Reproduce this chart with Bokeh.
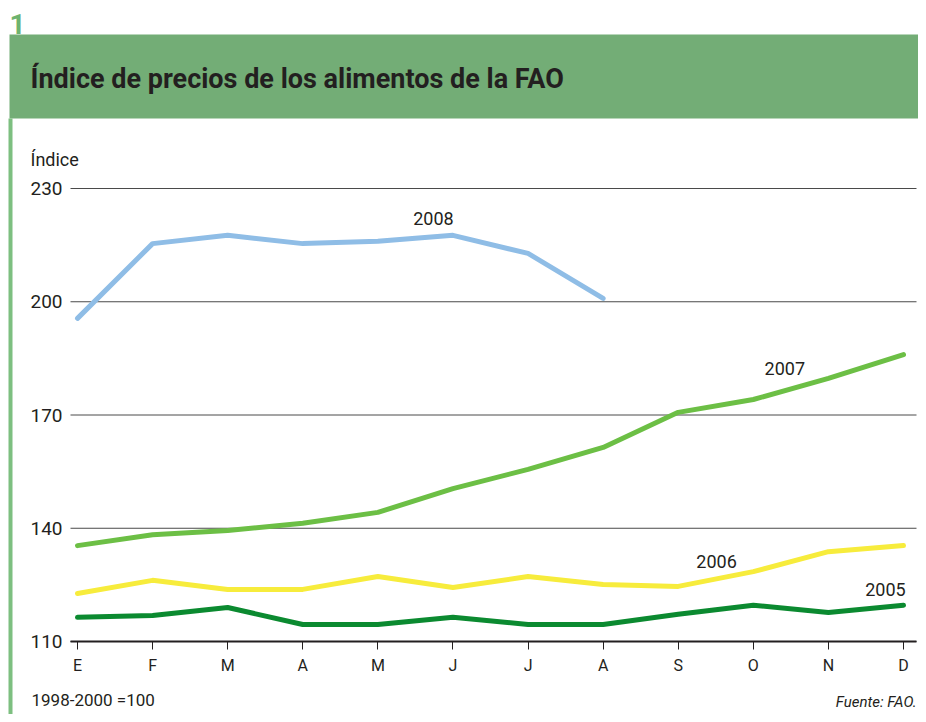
from bokeh.plotting import figure
from bokeh.models import Range1d, Label, BoxAnnotation, FixedTicker
from bokeh.core.properties import value
from bokeh.embed import file_html
from bokeh.resources import INLINE

months = ["E", "F", "M", "A", "M", "J", "J", "A", "S", "O", "N", "D"]
y2008 = [195.6, 215.4, 217.6, 215.4, 216.0, 217.6, 212.8, 200.9]
y2007 = [135.4, 138.3, 139.4, 141.3, 144.2, 150.5, 155.6, 161.4, 170.7, 174.1, 179.7, 186.0]
y2006 = [122.7, 126.2, 123.8, 123.8, 127.2, 124.3, 127.2, 125.1, 124.6, 128.5, 133.8, 135.4]
y2005 = [116.4, 116.9, 119.0, 114.5, 114.5, 116.4, 114.5, 114.5, 117.2, 119.6, 117.7, 119.6]
y_ticks = [110, 140, 170, 200, 230]

series = [
    ("2008", y2008, "#8fbde6", 4.74, 222.0),
    ("2007", y2007, "#6cbf45", 9.42, 182.3),
    ("2006", y2006, "#f7ec3c", 8.51, 131.3),
    ("2005", y2005, "#0b8a30", 10.76, 123.8),
]

TXT = "#231f20"
FONT = "Roboto"
TITLE_FONT = "'Liberation Sans Narrow', 'Roboto'"

W, H = 918, 714
PL, PR, PT, PB = 70, 916, 188, 641          # plot region (canvas pixels)
PPX = 75.09                                  # pixels per month
PPY = 453 / 120                              # pixels per index point
X0 = -7 / PPX                                # month value at the plot's left edge
X1 = X0 + (PR - PL) / PPX
Y0, Y1 = 110, 230


def xd(px):
    return X0 + (px - PL) / PPX


def yd(py):
    return Y0 + (PB - py) / PPY


# the frame covers the whole canvas; ranges chosen so the plot region sits where it should
p = figure(width=W, height=H, output_backend="svg", toolbar_location=None,
           x_range=Range1d(xd(0), xd(W)), y_range=Range1d(yd(H), yd(0)),
           min_border=0)
p.outline_line_color = None
p.background_fill_color = "white"
p.border_fill_color = "white"
p.xgrid.grid_line_color = None
p.ygrid.grid_line_color = None

# header decorations
p.add_layout(BoxAnnotation(left=xd(9), right=xd(W + 5), top=yd(34), bottom=yd(118),
                           fill_color="#73ad76", fill_alpha=1, line_color=None,
                           level="underlay"))
p.add_layout(BoxAnnotation(left=xd(8), right=xd(12), top=yd(118), bottom=yd(H + 5),
                           fill_color="#7dbf80", fill_alpha=1, line_color=None,
                           level="underlay"))

# horizontal grid lines at the y ticks, spanning the plot region
p.segment(x0=[X0] * len(y_ticks), x1=[X1] * len(y_ticks), y0=y_ticks, y1=y_ticks,
          line_color="#4a4a4a", line_width=1)

# axes drawn at fixed locations inside the frame
p.xaxis.fixed_location = Y0
p.xaxis.bounds = (X0, X1)
p.xaxis.ticker = FixedTicker(ticks=list(range(12)))
p.xaxis.major_label_overrides = {i: m for i, m in enumerate(months)}
p.xaxis.axis_line_color = "#231f20"
p.xaxis.axis_line_width = 2
p.xaxis.major_tick_line_color = "#231f20"
p.xaxis.major_tick_line_width = 1
p.xaxis.major_tick_out = 8
p.xaxis.major_tick_in = 0
p.xaxis.minor_tick_line_color = None
p.xaxis.major_label_standoff = 6
p.xaxis.major_label_text_font = FONT
p.xaxis.major_label_text_font_size = "16px"
p.xaxis.major_label_text_color = TXT

p.yaxis.fixed_location = X0
p.yaxis.bounds = (Y0, Y1)
p.yaxis.ticker = FixedTicker(ticks=y_ticks)
p.yaxis.axis_line_color = None
p.yaxis.major_tick_line_color = None
p.yaxis.minor_tick_line_color = None
p.yaxis.major_tick_out = 0
p.yaxis.major_tick_in = 0
p.yaxis.major_label_standoff = 8
p.yaxis.major_label_text_font = FONT
p.yaxis.major_label_text_font_size = "19px"
p.yaxis.major_label_text_color = TXT

for name, ys, col, lx, ly in series:
    p.line(list(range(len(ys))), ys, line_color=col, line_width=5,
           line_cap="round", line_join="round")
    p.add_layout(Label(x=lx, y=ly, text=name, text_align="center", text_baseline="middle",
                       text_font=FONT, text_font_size="18px", text_color=TXT))

p.add_layout(Label(x=xd(9), y=yd(23), text="1",
                   text_font=FONT, text_font_style="bold", text_font_size="28px",
                   text_color="#6db36f", text_baseline="middle"))
p.add_layout(Label(x=xd(30), y=yd(78),
                   text="Índice de precios de los alimentos de la FAO",
                   text_font=TITLE_FONT, text_font_style="bold", text_font_size="27px",
                   text_color=TXT, text_baseline="middle"))
p.add_layout(Label(x=xd(30), y=yd(159), text="Índice",
                   text_font=FONT, text_font_size="18px", text_color=TXT,
                   text_baseline="middle"))
p.add_layout(Label(x=xd(31), y=yd(699), text="1998-2000 =100",
                   text_font=FONT, text_font_size="17px", text_color=TXT,
                   text_baseline="middle"))
p.add_layout(Label(x=xd(916), y=yd(701), text="Fuente: FAO.",
                   text_font=FONT, text_font_style="italic", text_font_size="15px",
                   text_color=TXT, text_align="right", text_baseline="middle"))

open("out.html", "w").write(file_html(p, INLINE))
